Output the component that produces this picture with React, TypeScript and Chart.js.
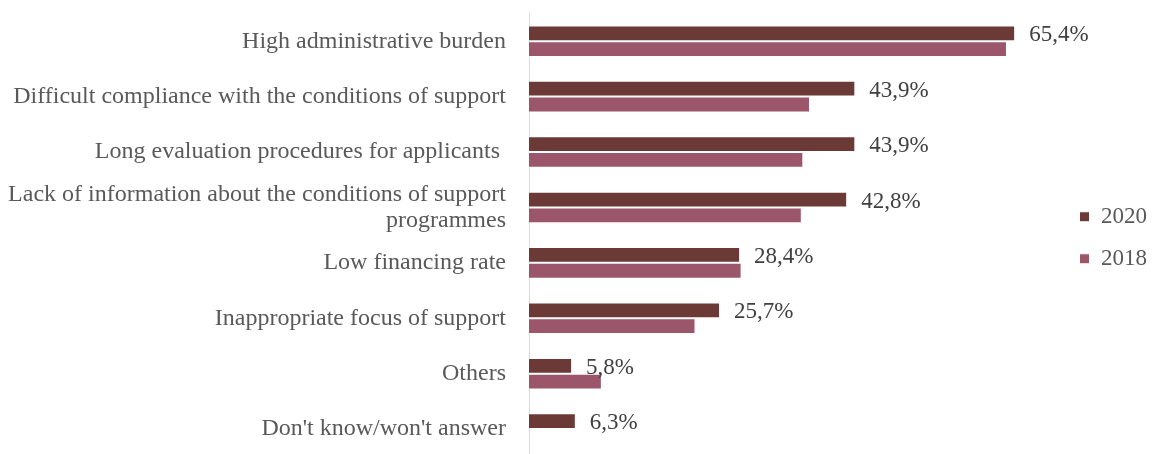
import React, { useEffect, useRef } from "react";
import { Chart, registerables } from "chart.js";

Chart.register(...registerables);

const categories: (string | string[])[] = [
  "High administrative burden",
  "Difficult compliance with the conditions of support",
  "Long evaluation procedures for applicants ",
  ["Lack of information about the conditions of support", "programmes"],
  "Low financing rate",
  "Inappropriate focus of support",
  "Others",
  "Don't know/won't answer",
];

const values2020: (number | null)[] = [65.4, 43.9, 43.9, 42.8, 28.4, 25.7, 5.8, 6.3];
const values2018: (number | null)[] = [64.3, 37.8, 36.9, 36.7, 28.6, 22.4, 9.8, null];

const seriesLabels = ["2020", "2018"];
const seriesColors = ["#6B3A37", "#9B566B"];

const FONT = "'Liberation Serif', 'Times New Roman', serif";

const valueLabelPlugin = {
  id: "valueLabels",
  afterDatasetsDraw(chart: any) {
    const ctx = chart.ctx;
    const meta = chart.getDatasetMeta(0);
    ctx.save();
    ctx.font = `23px ${FONT}`;
    ctx.fillStyle = "#404040";
    ctx.textAlign = "left";
    ctx.textBaseline = "middle";
    meta.data.forEach((bar: any, i: number) => {
      const v = values2020[i];
      if (v == null) return;
      const txt = v.toFixed(1).replace(".", ",") + "%";
      ctx.fillText(txt, bar.x + 14, bar.y + 2);
    });
    ctx.restore();
  },
};

export default function App() {
  const ref = useRef<HTMLCanvasElement | null>(null);

  useEffect(() => {
    if (!ref.current) return;
    const chart = new Chart(ref.current, {
      type: "bar",
      data: {
        labels: categories as any,
        datasets: [
          {
            label: seriesLabels[0],
            data: values2020,
            backgroundColor: seriesColors[0],
            borderColor: "#ffffff",
            borderWidth: 1,
          },
          {
            label: seriesLabels[1],
            data: values2018,
            backgroundColor: seriesColors[1],
            borderColor: "#ffffff",
            borderWidth: 1,
          },
        ],
      },
      options: {
        indexAxis: "y",
        animation: false,
        responsive: true,
        maintainAspectRatio: false,
        layout: { padding: { top: 13.5, bottom: 8, left: 0, right: 0 } },
        datasets: {
          bar: { categoryPercentage: 0.57, barPercentage: 1.0 },
        },
        scales: {
          x: {
            display: false,
            min: 0,
            max: 71.5,
          },
          y: {
            grid: {
              display: true,
              drawOnChartArea: false,
              drawTicks: true,
              tickLength: 23,
              color: "rgba(0,0,0,0)",
              tickColor: "rgba(0,0,0,0)",
            },
            border: { display: true, color: "#D9D9D9", width: 1 },
            ticks: {
              padding: 0,
              color: "#595959",
              font: { family: FONT, size: 24, lineHeight: 1.1 },
              autoSkip: false,
            },
            afterFit(scale: any) {
              scale.width = 529;
            },
          },
        },
        plugins: {
          legend: {
            display: true,
            position: "right",
            align: "center",
            labels: {
              boxWidth: 10,
              boxHeight: 10,
              padding: 19,
              color: "#595959",
              font: { family: FONT, size: 23 },
            },
          },
          tooltip: { enabled: false },
        },
      },
      plugins: [valueLabelPlugin],
    });
    return () => chart.destroy();
  }, []);

  return (
    <div style={{ position: "absolute", left: 0, top: 0, width: 1157, height: 470, background: "#fff" }}>
      <canvas ref={ref} />
    </div>
  );
}
